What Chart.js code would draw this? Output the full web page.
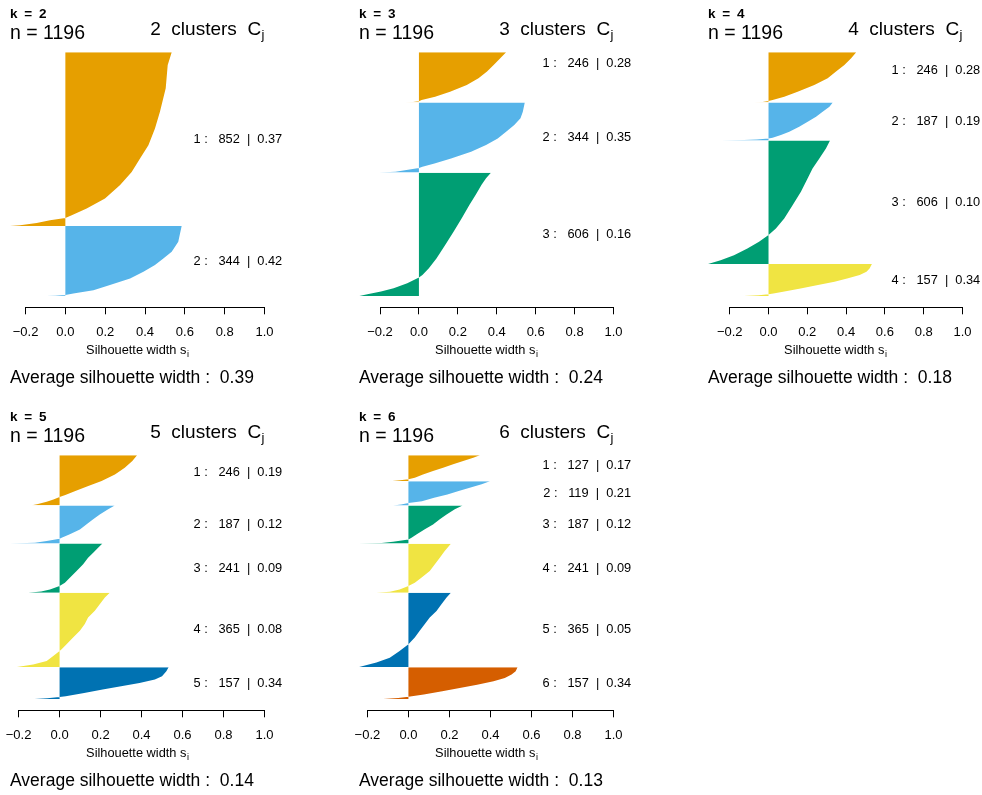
<!DOCTYPE html>
<html><head><meta charset="utf-8">
<script src="https://cdn.jsdelivr.net/npm/chart.js@4.4.0/dist/chart.umd.min.js"></script>
<style>
html,body{margin:0;padding:0;background:#fff;overflow:hidden;width:982px;height:795px;}
#wrap{position:relative;width:982px;height:795px;overflow:hidden;background:#fff;}
#wrap canvas{position:absolute;}
</style></head><body><div id="wrap"></div>
<script>
// ---------------- data ----------------
const nObs = 1196;
const panelK = [2, 3, 4, 5, 6];
const clusterSizes = [
  [852, 344],
  [246, 344, 606],
  [246, 187, 606, 157],
  [246, 187, 241, 365, 157],
  [127, 119, 187, 241, 365, 157]
];
const clusterAvgWidths = [
  ['0.37', '0.42'],
  ['0.28', '0.35', '0.16'],
  ['0.28', '0.19', '0.10', '0.34'],
  ['0.19', '0.12', '0.09', '0.08', '0.34'],
  ['0.17', '0.21', '0.12', '0.09', '0.05', '0.34']
];
const avgSilWidth = ['0.39', '0.24', '0.18', '0.14', '0.13'];
const tickValues = [-0.2, 0.0, 0.2, 0.4, 0.6, 0.8, 1.0];

// silhouette profiles: [rank within cluster (sorted), s_i]
const silK2 = [
  [[0,0.534],[62,0.514],[177,0.504],[292,0.475],[374,0.450],[456,0.417],[521,0.375],[587,0.333],[652,0.275],[718,0.199],[767,0.107],[800,0.032],[813,0],[824,-0.077],[838,-0.144],[849,-0.227],[852,-0.278]],
  [[0,0.584],[77,0.567],[126,0.534],[159,0.492],[192,0.450],[225,0.392],[258,0.325],[290,0.224],[315,0.141],[331,0.040],[339,0],[342,-0.05],[344,-0.105]]
];
const silK3 = [
  [[0,0.448],[30,0.418],[62,0.384],[95,0.350],[128,0.306],[161,0.246],[194,0.160],[218,0.083],[235,0.014],[240,0],[244,-0.03],[246,-0.072]],
  [[0,0.544],[46,0.534],[78,0.522],[111,0.490],[144,0.448],[177,0.405],[209,0.345],[242,0.268],[275,0.165],[300,0.080],[316,0.018],[322,0],[332,-0.064],[340,-0.12],[344,-0.205]],
  [[0,0.370],[27,0.345],[60,0.322],[109,0.292],[158,0.260],[224,0.220],[290,0.178],[355,0.135],[421,0.090],[470,0.050],[502,0.018],[515,0],[543,-0.060],[568,-0.130],[584,-0.195],[597,-0.265],[606,-0.308]]
];
const silK4 = [
  [[0,0.452],[30,0.426],[62,0.391],[95,0.348],[128,0.305],[161,0.236],[194,0.150],[218,0.081],[235,0.021],[240,0],[244,-0.03],[246,-0.074]],
  [[0,0.331],[21,0.314],[46,0.279],[70,0.245],[95,0.202],[119,0.158],[144,0.107],[160,0.064],[173,0.021],[177,0],[182,-0.06],[185,-0.126],[187,-0.242]],
  [[0,0.317],[39,0.296],[88,0.262],[137,0.227],[185,0.202],[251,0.167],[317,0.124],[382,0.081],[431,0.038],[464,0],[497,-0.049],[530,-0.109],[563,-0.178],[587,-0.247],[606,-0.312]],
  [[0,0.533],[21,0.521],[37,0.505],[54,0.470],[70,0.410],[87,0.340],[103,0.255],[120,0.165],[136,0.075],[144,0.025],[148,0],[153,-0.05],[157,-0.135]]
];
const silK5 = [
  [[0,0.378],[28,0.355],[61,0.318],[94,0.270],[126,0.205],[151,0.140],[175,0.080],[195,0.028],[205,0],[217,-0.030],[228,-0.063],[241,-0.11],[246,-0.135]],
  [[0,0.269],[19,0.237],[44,0.196],[68,0.164],[93,0.132],[118,0.099],[142,0.050],[159,0.010],[164,0],[175,-0.063],[183,-0.12],[187,-0.242]],
  [[0,0.209],[20,0.188],[45,0.164],[69,0.139],[102,0.115],[135,0.083],[168,0.050],[192,0.026],[209,0],[225,-0.047],[236,-0.09],[241,-0.153]],
  [[0,0.245],[23,0.221],[56,0.196],[89,0.172],[122,0.139],[154,0.123],[187,0.099],[220,0.066],[253,0.034],[278,0.010],[286,0],[311,-0.031],[335,-0.063],[352,-0.129],[365,-0.209]],
  [[0,0.532],[20,0.521],[45,0.500],[61,0.465],[78,0.390],[94,0.300],[110,0.210],[127,0.120],[143,0.030],[147,0],[153,-0.06],[157,-0.129]]
];
const silK6 = [
  [[0,0.348],[12,0.316],[28,0.267],[44,0.218],[61,0.169],[77,0.120],[94,0.071],[110,0.031],[118,0],[123,-0.04],[127,-0.083]],
  [[0,0.397],[15,0.357],[32,0.299],[48,0.245],[65,0.190],[81,0.125],[98,0.066],[107,0],[114,-0.035],[119,-0.075]],
  [[0,0.264],[19,0.226],[44,0.186],[68,0.153],[93,0.120],[117,0.080],[142,0.039],[158,0.015],[167,0],[178,-0.075],[184,-0.13],[187,-0.241]],
  [[0,0.207],[36,0.177],[69,0.153],[102,0.128],[135,0.104],[167,0.063],[192,0.031],[208,0],[225,-0.043],[236,-0.09],[241,-0.156]],
  [[0,0.207],[23,0.186],[56,0.161],[89,0.137],[122,0.104],[154,0.080],[187,0.055],[220,0.031],[253,0],[286,-0.043],[319,-0.091],[343,-0.156],[365,-0.241]],
  [[0,0.532],[20,0.523],[36,0.503],[53,0.470],[69,0.415],[86,0.335],[102,0.250],[118,0.165],[135,0.075],[146,0],[152,-0.05],[157,-0.130]]
];
const silProfiles = [silK2, silK3, silK4, silK5, silK6];

// ---------------- styles / layout ----------------
const clusterColors = ['#E69F00', '#56B4E9', '#009E73', '#F0E442', '#0072B2', '#D55E00'];
const panelOrigin = [[0, 0], [349, 0], [697.5, 0], [0, 403.2], [349, 403.2]];
const firstLabelShift = [0, -13.6, -7, -8, -2.6]; // px, as placed in the reference
const FONT = '"Liberation Sans", Arial, Helvetica, sans-serif';
const CW = 305, CH = 402;

function fmtTick(v) {
  const s = Math.abs(v).toFixed(1);
  return v < -1e-9 ? '\u2212' + s : s;
}

const silText = {
  id: 'silText',
  afterDraw(chart) {
    const o = chart.options.plugins.silText;
    const ctx = chart.ctx, a = chart.chartArea, x = chart.scales.x, y = chart.scales.y;
    ctx.save();
    ctx.fillStyle = '#000';
    ctx.strokeStyle = '#000';
    ctx.lineWidth = 1;
    // axis line spanning first to last tick
    const yl = Math.round(a.bottom) + 0.5;
    const x0 = Math.round(x.getPixelForValue(tickValues[0]) - 0.5) + 0.5;
    const x1 = Math.round(x.getPixelForValue(tickValues[tickValues.length - 1]) - 0.5) + 0.5;
    ctx.beginPath(); ctx.moveTo(x0, yl); ctx.lineTo(x1, yl); ctx.stroke();

    ctx.textAlign = 'left';
    ctx.textBaseline = 'alphabetic';
    // k label (bold)
    ctx.font = 'bold 13.5px ' + FONT;
    ctx.fillText('k\u2002=\u2002' + o.k, a.left, a.top - 24.2);
    // n
    ctx.font = '19.5px ' + FONT;
    ctx.fillText('n = ' + o.n, a.left, a.top - 3.2);
    // k clusters C_j
    ctx.font = '19px ' + FONT;
    const main = o.k + '  clusters  C';
    const wm = ctx.measureText(main).width;
    ctx.font = '13px ' + FONT;
    const wj = ctx.measureText('j').width;
    const xs = a.right - 0.5 - wm - wj;
    ctx.font = '19px ' + FONT;
    ctx.fillText(main, xs, a.top - 7.5);
    ctx.font = '13px ' + FONT;
    ctx.fillText('j', xs + wm + 0.5, a.top - 7.5 + 4);

    // cluster labels at x = 1, adj = 0.8
    ctx.font = '12.8px ' + FONT;
    ctx.textBaseline = 'middle';
    o.labels.forEach((l, j) => {
      const w = ctx.measureText(l.text).width;
      const dy = j === 0 ? o.shift : 0;
      ctx.fillText(l.text, x.getPixelForValue(1) - 0.8 * w, y.getPixelForValue(l.mid) + dy);
    });

    // axis title with subscript
    const cx = (a.left + a.right) / 2;
    ctx.font = '12.8px ' + FONT;
    const t1 = 'Silhouette width s';
    const w1 = ctx.measureText(t1).width;
    ctx.font = '9px ' + FONT;
    const w2 = ctx.measureText('i').width;
    const tx = cx - (w1 + w2) / 2;
    ctx.textBaseline = 'alphabetic';
    ctx.font = '12.8px ' + FONT;
    ctx.fillText(t1, tx, a.bottom + 46.8);
    ctx.font = '9px ' + FONT;
    ctx.fillText('i', tx + w1 + 0.5, a.bottom + 49.4);

    // average silhouette width
    ctx.font = '17.5px ' + FONT;
    ctx.fillText('Average silhouette width :  ' + o.avg, a.left, a.bottom + 76);
    ctx.restore();
  }
};

const wrap = document.getElementById('wrap');
panelK.forEach((k, p) => {
  const sizes = clusterSizes[p];
  const prof = silProfiles[p];
  const total = sizes.reduce((s, v) => s + v, 0) + 0.5 * (sizes.length - 1);
  let off = 0;
  const datasets = [];
  const labels = [];
  let sMin = 0;
  sizes.forEach((sz, j) => {
    const pts = prof[j].map(([r, s]) => ({ x: s, y: off + r }));
    prof[j].forEach(([, s]) => { if (s < sMin) sMin = s; });
    datasets.push({
      data: pts,
      backgroundColor: clusterColors[j],
      borderColor: clusterColors[j],
      borderWidth: 0,
      pointRadius: 0,
      pointHoverRadius: 0,
      tension: 0,
      fill: 'origin'
    });
    labels.push({
      text: (j + 1) + ' :   ' + sz + '  |  ' + clusterAvgWidths[p][j],
      mid: off + sz / 2
    });
    off += sz + 0.5;
  });

  const cv = document.createElement('canvas');
  cv.width = CW; cv.height = CH;
  cv.style.left = (panelOrigin[p][0] - 20) + 'px';
  cv.style.top = panelOrigin[p][1] + 'px';
  cv.style.width = CW + 'px'; cv.style.height = CH + 'px';
  wrap.appendChild(cv);

  new Chart(cv, {
    type: 'line',
    data: { datasets },
    options: {
      indexAxis: 'y',
      responsive: false,
      animation: false,
      events: [],
      layout: { padding: { left: 30, right: 20.5, top: 42.5, bottom: 64.7 } },
      plugins: {
        legend: { display: false },
        tooltip: { enabled: false },
        title: { display: false },
        silText: { k: k, n: nObs, avg: avgSilWidth[p], labels: labels, shift: firstLabelShift[p] }
      },
      scales: {
        y: {
          type: 'linear', display: false, reverse: true,
          min: -0.04 * total, max: 1.046 * total
        },
        x: {
          type: 'linear', position: 'bottom',
          min: Math.min(0, sMin), max: 1,
          afterBuildTicks: (sc) => { sc.ticks = tickValues.map(v => ({ value: v })); },
          afterFit: (sc) => { sc.height = 30; },
          border: { display: false },
          grid: { display: true, drawOnChartArea: false, drawTicks: true, tickLength: 7, color: '#000', lineWidth: 1 },
          ticks: {
            autoSkip: false, maxRotation: 0, minRotation: 0, padding: 10,
            color: '#000', font: { family: FONT, size: 13 },
            callback: (v) => fmtTick(v)
          }
        }
      }
    },
    plugins: [silText]
  });
});
</script>
</body></html>
